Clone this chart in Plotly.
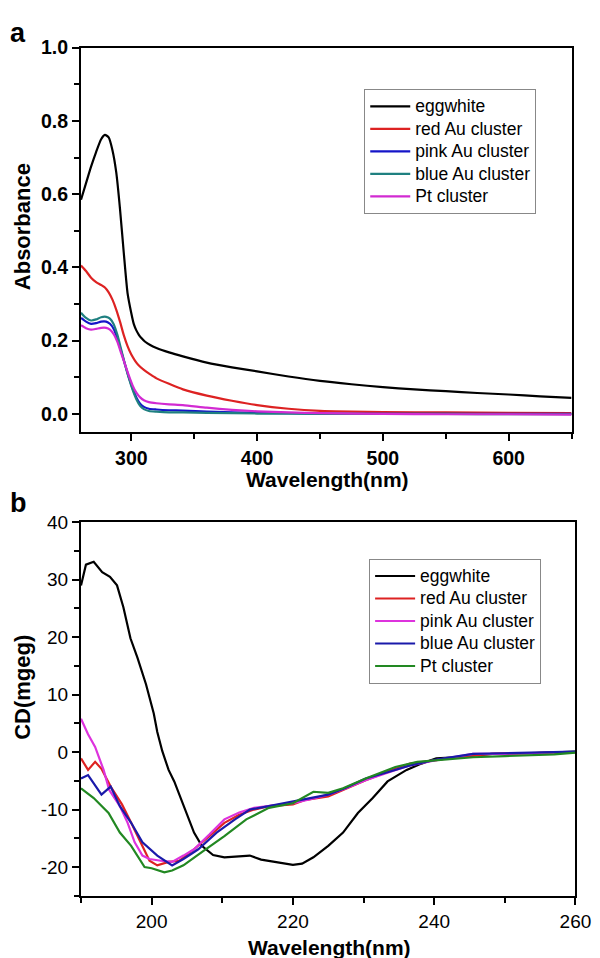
import plotly.graph_objects as go

# ---------------- Panel a : UV-vis absorbance ----------------
a_names = ["eggwhite", "red Au cluster", "pink Au cluster", "blue Au cluster", "Pt cluster"]
a_colors = ["#000000", "#dd2222", "#1515c8", "#1f8080", "#d22ad2"]

a_egg_x = [260, 264, 268, 272, 276, 279, 282, 285, 288, 291, 294, 297, 300, 302, 304, 306, 308, 311, 315, 320,
           330, 341, 360, 380, 400, 425, 450, 475, 500, 525, 550, 575, 600, 625, 650]
a_egg_y = [0.585, 0.63, 0.675, 0.715, 0.75, 0.762, 0.755, 0.72, 0.66, 0.56, 0.44, 0.33, 0.275, 0.245, 0.228, 0.216,
           0.207, 0.197, 0.188, 0.180, 0.168, 0.157, 0.140, 0.127, 0.116, 0.102, 0.090, 0.081, 0.073, 0.067,
           0.062, 0.057, 0.053, 0.048, 0.044]

a_red_x = [260, 264, 268, 272, 276, 279, 282, 285, 288, 291, 294, 297, 300, 303, 306, 310, 315, 320, 330, 341,
           360, 380, 400, 425, 450, 475, 500, 550, 600, 650]
a_red_y = [0.405, 0.39, 0.372, 0.36, 0.352, 0.345, 0.332, 0.312, 0.285, 0.252, 0.215, 0.185, 0.162, 0.145, 0.132,
           0.12, 0.108, 0.097, 0.082, 0.067, 0.050, 0.036, 0.024, 0.014, 0.008, 0.006, 0.005, 0.004, 0.003, 0.002]

a_pink_x = [260, 264, 268, 272, 276, 280, 283, 286, 289, 292, 295, 298, 301, 304, 307, 310, 314, 320, 330, 341,
            360, 400, 450, 500, 550, 600, 650]
a_pink_y = [0.262, 0.252, 0.246, 0.248, 0.252, 0.252, 0.246, 0.232, 0.205, 0.17, 0.135, 0.1, 0.07, 0.045, 0.028,
            0.019, 0.014, 0.012, 0.010, 0.009, 0.006, 0.003, 0.001, 0.0, 0.0, 0.0, 0.0]

a_blue_x = [260, 264, 268, 272, 276, 280, 283, 286, 289, 292, 295, 298, 301, 304, 307, 310, 314, 320, 330, 341,
            360, 400, 450, 500, 550, 600, 650]
a_blue_y = [0.276, 0.262, 0.255, 0.258, 0.264, 0.265, 0.26, 0.245, 0.215, 0.175, 0.135, 0.098, 0.066, 0.04, 0.022,
            0.013, 0.008, 0.006, 0.004, 0.004, 0.003, 0.001, 0.0, 0.0, 0.0, -0.001, -0.001]

a_pt_x = [260, 264, 268, 272, 276, 280, 283, 286, 289, 292, 295, 298, 301, 304, 307, 310, 314, 320, 330, 341,
          360, 380, 400, 425, 450, 500, 550, 600, 650]
a_pt_y = [0.242, 0.234, 0.23, 0.232, 0.235, 0.235, 0.23, 0.218, 0.196, 0.165, 0.135, 0.105, 0.078, 0.058, 0.045,
          0.037, 0.032, 0.029, 0.026, 0.024, 0.017, 0.011, 0.007, 0.004, 0.002, 0.0, -0.001, -0.001, -0.002]

a_xticks = [300, 400, 500, 600]
a_yticks = [0.0, 0.2, 0.4, 0.6, 0.8, 1.0]
a_yticklabels = ["0.0", "0.2", "0.4", "0.6", "0.8", "1.0"]

# ---------------- Panel b : CD spectra ----------------
b_names = ["eggwhite", "red Au cluster", "pink Au cluster", "blue Au cluster", "Pt cluster"]
b_colors = ["#000000", "#dd2222", "#dd33dd", "#1a1aaa", "#228822"]

b_egg_x = [190, 190.7, 191.8, 193, 194.1, 195.1, 196, 197, 198, 199.2, 200.3, 200.8, 201.5, 202.4, 203.2, 204.5,
           206, 207.1, 208.7, 210.3, 212.4, 213.9, 215.5, 217.6, 220, 221.3, 222.9, 225, 227.1, 229.2, 231.3,
           233.4, 236.1, 238.2, 240.3, 242.9, 248.2, 253.4, 260]
b_egg_y = [29.0, 32.6, 33.1, 31.3, 30.5, 29.0, 25.2, 19.8, 16.4, 11.8, 6.7, 3.5, 0.2, -3.1, -5.1, -9.4,
           -14.0, -16.3, -17.9, -18.3, -18.2, -18.0, -18.7, -19.1, -19.6, -19.4, -18.3, -16.3, -14.0, -10.6, -8.0,
           -5.1, -3.1, -2.0, -1.1, -0.9, -0.3, -0.2, 0.1]

b_red_x = [190, 191, 192, 192.9, 194.2, 195.8, 197.1, 198.4, 199.7, 200.8, 202.4, 203.9, 206, 208.2, 210.3, 212.4,
           214.5, 216.6, 220, 221.8, 225, 227.1, 230.3, 233.4, 236.6, 240.3, 242.9, 248.2, 254, 260]
b_red_y = [-1.1, -3.1, -1.7, -2.9, -6.0, -9.1, -12.3, -15.7, -18.9, -19.7, -19.1, -18.9, -16.9, -14.6, -12.3, -10.9,
           -10.0, -9.4, -9.1, -8.3, -7.7, -6.6, -4.9, -3.4, -2.0, -1.4, -0.9, -0.3, -0.2, 0.0]

b_pink_x = [190, 191, 192, 193.2, 194, 195.5, 196.6, 197.6, 198.7, 199.7, 201.3, 202.9, 204.5, 206, 208.2, 210.3,
            212.4, 214.5, 217, 220, 222.5, 225, 227.5, 230.3, 233.4, 236.6, 240.3, 245.5, 250, 255, 260]
b_pink_y = [5.8, 3.1, 0.9, -3.1, -6.6, -9.4, -12.3, -15.7, -18.0, -18.6, -18.9, -19.1, -18.0, -16.9, -14.3, -11.7,
            -10.5, -9.7, -9.3, -8.9, -8.2, -7.4, -6.3, -4.9, -3.6, -2.3, -1.4, -0.3, -0.3, -0.1, 0.0]

b_blue_x = [190, 191, 192.9, 194.2, 195.5, 197.1, 198.7, 200.8, 202.9, 204.5, 206.6, 209.2, 211.8, 213.9, 216.6,
            220, 222.5, 225, 227.5, 230.3, 233.4, 236.6, 240.3, 245.5, 250, 255, 260]
b_blue_y = [-4.6, -4.0, -7.4, -6.0, -9.4, -12.3, -15.7, -18.0, -19.7, -18.6, -16.9, -14.0, -11.7, -10.0, -9.4,
            -8.6, -8.0, -7.4, -6.2, -4.6, -3.5, -2.3, -1.3, -0.3, -0.2, -0.1, 0.1]

b_pt_x = [190, 191.8, 193.9, 195.5, 197.1, 199, 200, 201.8, 202.9, 204.5, 207.1, 210.3, 213.4, 216.6, 220, 222.9,
          225, 227.1, 230.3, 234.5, 237.6, 240.3, 245.5, 250, 253.4, 257, 260]
b_pt_y = [-6.3, -8.0, -10.6, -14.0, -16.3, -20.0, -20.2, -20.9, -20.6, -19.7, -17.4, -14.6, -11.7, -9.7, -8.9, -6.9,
          -7.1, -6.3, -4.6, -2.6, -1.7, -1.4, -0.9, -0.7, -0.6, -0.4, -0.1]

b_xticks = [200, 220, 240, 260]
b_yticks = [-20, -10, 0, 10, 20, 30, 40]
b_yticklabels = ["-20", "-10", "0", "10", "20", "30", "40"]

a_series = [(a_egg_x, a_egg_y), (a_red_x, a_red_y), (a_pink_x, a_pink_y), (a_blue_x, a_blue_y), (a_pt_x, a_pt_y)]
b_series = [(b_egg_x, b_egg_y), (b_red_x, b_red_y), (b_pink_x, b_pink_y), (b_blue_x, b_blue_y), (b_pt_x, b_pt_y)]

W, H = 600, 958
FONT = "Liberation Sans, Arial, sans-serif"
LEG_TXT = '<span style="font-size:17.5px">{}</span>'

fig = go.Figure()
for (xs, ys), name, col in zip(a_series, a_names, a_colors):
    fig.add_trace(go.Scatter(x=xs, y=ys, name=LEG_TXT.format(name), mode="lines",
                             line=dict(color=col, width=2.2, shape="spline", smoothing=0.6),
                             xaxis="x", yaxis="y", legend="legend"))
for (xs, ys), name, col in zip(b_series, b_names, b_colors):
    fig.add_trace(go.Scatter(x=xs, y=ys, name=LEG_TXT.format(name), mode="lines", line=dict(color=col, width=2.2),
                             xaxis="x2", yaxis="y2", legend="legend2"))


def px_x(p):
    return p / W


def px_y(p):
    return 1 - p / H


axis_common = dict(showline=True, linecolor="black", linewidth=2, mirror=True, ticks="outside",
                   tickcolor="black", tickwidth=2, ticklen=7, showgrid=False, zeroline=False)

fig.update_layout(
    width=W, height=H,
    margin=dict(l=0, r=0, t=0, b=0),
    paper_bgcolor="white", plot_bgcolor="white",
    font=dict(family=FONT, color="black"),
    xaxis=dict(domain=[px_x(75), px_x(579)], range=[260, 650], anchor="y", tickvals=a_xticks,
               tickfont=dict(size=19.5, family=FONT, weight="bold"),
               minor=dict(dtick=50, tick0=250, ticks="outside", ticklen=5, tickwidth=2, tickcolor="black",
                          showgrid=False),
               **axis_common),
    yaxis=dict(domain=[px_y(418), px_y(29)], range=[-0.05, 1.0], anchor="x", tickvals=a_yticks,
               ticktext=a_yticklabels, tickfont=dict(size=19.5, family=FONT, weight="bold"),
               minor=dict(dtick=0.1, tick0=0, ticks="outside", ticklen=5, tickwidth=2, tickcolor="black",
                          showgrid=False),
               **axis_common),
    xaxis2=dict(domain=[px_x(75), px_x(583)], range=[190, 260], anchor="y2", tickvals=b_xticks,
                tickfont=dict(size=19, family=FONT),
                minor=dict(dtick=10, tick0=190, ticks="outside", ticklen=5, tickwidth=2, tickcolor="black",
                           showgrid=False),
                **axis_common),
    yaxis2=dict(domain=[px_y(887), px_y(509)], range=[-25, 40], anchor="x2", tickvals=b_yticks,
                ticktext=b_yticklabels, tickfont=dict(size=19, family=FONT),
                minor=dict(dtick=5, tick0=-25, ticks="outside", ticklen=5, tickwidth=2, tickcolor="black",
                           showgrid=False),
                **axis_common),
    legend=dict(x=px_x(366), y=px_y(71), xanchor="left", yanchor="top", bgcolor="white",
                bordercolor="#888888", borderwidth=1, font=dict(size=15, family=FONT),
                tracegroupgap=0, itemwidth=40),
    legend2=dict(x=px_x(371), y=px_y(546), xanchor="left", yanchor="top", bgcolor="white",
                 bordercolor="#888888", borderwidth=1, font=dict(size=15, family=FONT),
                 tracegroupgap=0, itemwidth=40),
    showlegend=True,
)

ann = [
    dict(text="<b>a</b>", x=px_x(10), y=px_y(14), size=27, angle=0),
    dict(text="<b>b</b>", x=px_x(11), y=px_y(490), size=27, angle=0),
    dict(text="<b>Absorbance</b>", x=px_x(15), y=px_y(210), size=22, angle=-90),
    dict(text="<b>CD(mgeg)</b>", x=px_x(15), y=px_y(676), size=22, angle=-90),
    dict(text="<b>Wavelength(nm)</b>", x=px_x(328), y=px_y(466), size=21, angle=0),
    dict(text="<b>Wavelength(nm)</b>", x=px_x(330), y=px_y(939), size=21, angle=0),
]
for a in ann:
    fig.add_annotation(text=a["text"], x=a["x"], y=a["y"], xref="paper", yref="paper", showarrow=False,
                       xanchor="center", yanchor="middle", textangle=a["angle"],
                       font=dict(size=a["size"], family=FONT, color="black"))

fig.write_html("out.html")
